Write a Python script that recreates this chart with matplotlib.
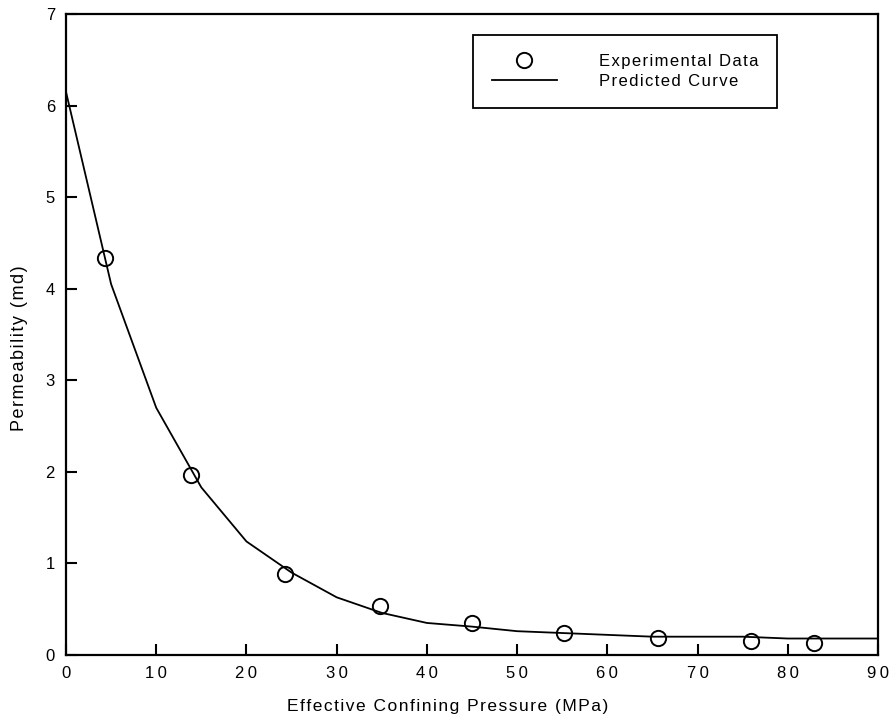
import matplotlib.pyplot as plt

# experimental measurements
exp_pressure = [4.3, 13.8, 24.3, 34.8, 45.0, 55.2, 65.6, 75.9, 82.9]
exp_perm = [4.34, 1.97, 0.89, 0.54, 0.35, 0.24, 0.19, 0.15, 0.13]

# model prediction
pred_pressure = [0, 5, 10, 15, 20, 25, 30, 35, 40, 45, 50, 55, 60, 65, 70, 75, 80, 85, 90]
pred_perm = [6.15, 4.05, 2.70, 1.83, 1.24, 0.90, 0.63, 0.46, 0.35, 0.31, 0.26, 0.24,
             0.22, 0.20, 0.20, 0.20, 0.18, 0.18, 0.18]


def spaced(text, gap="\u200a"):
    return gap.join(text)


plt.rcParams["font.family"] = ["Liberation Sans", "DejaVu Sans"]

fig = plt.figure(figsize=(8.93, 7.24), dpi=100)
ax = fig.add_axes([66 / 893, 69 / 724, 812 / 893, 641 / 724])

ax.plot(exp_pressure, exp_perm, "o", mfc="none", mec="black", ms=11, mew=1.4,
        label=spaced("Experimental Data"))
ax.plot(pred_pressure, pred_perm, "-", color="black", lw=1.3,
        label=spaced("Predicted Curve"))

ax.set_xlim(0, 90)
ax.set_ylim(0, 7)
ax.set_xticks(range(0, 91, 10))
ax.set_xticklabels([spaced(str(v), "\u2009") for v in range(0, 91, 10)])
ax.set_yticks(range(0, 8))
ax.tick_params(direction="in", length=8, width=1.5, labelsize=12, pad=8,
               top=False, right=False)
for spine in ax.spines.values():
    spine.set_linewidth(1.6)

ax.set_xlabel(spaced("Effective Confining Pressure (MPa)"), fontsize=12.5)
ax.xaxis.set_label_coords(0.470, -0.069)
ax.set_ylabel(spaced("Permeability (md)"), fontsize=13)
ax.yaxis.set_label_coords(-0.047, 0.479)

leg = ax.legend(loc="upper left", bbox_to_anchor=(0.501, 0.968), fontsize=12,
                frameon=True, fancybox=False, edgecolor="black", framealpha=1,
                borderpad=1.15, handlelength=3.9, labelspacing=0.3,
                borderaxespad=0, handletextpad=2.5)
leg.get_frame().set_linewidth(1.3)

fig.savefig("out.png", dpi=100)
